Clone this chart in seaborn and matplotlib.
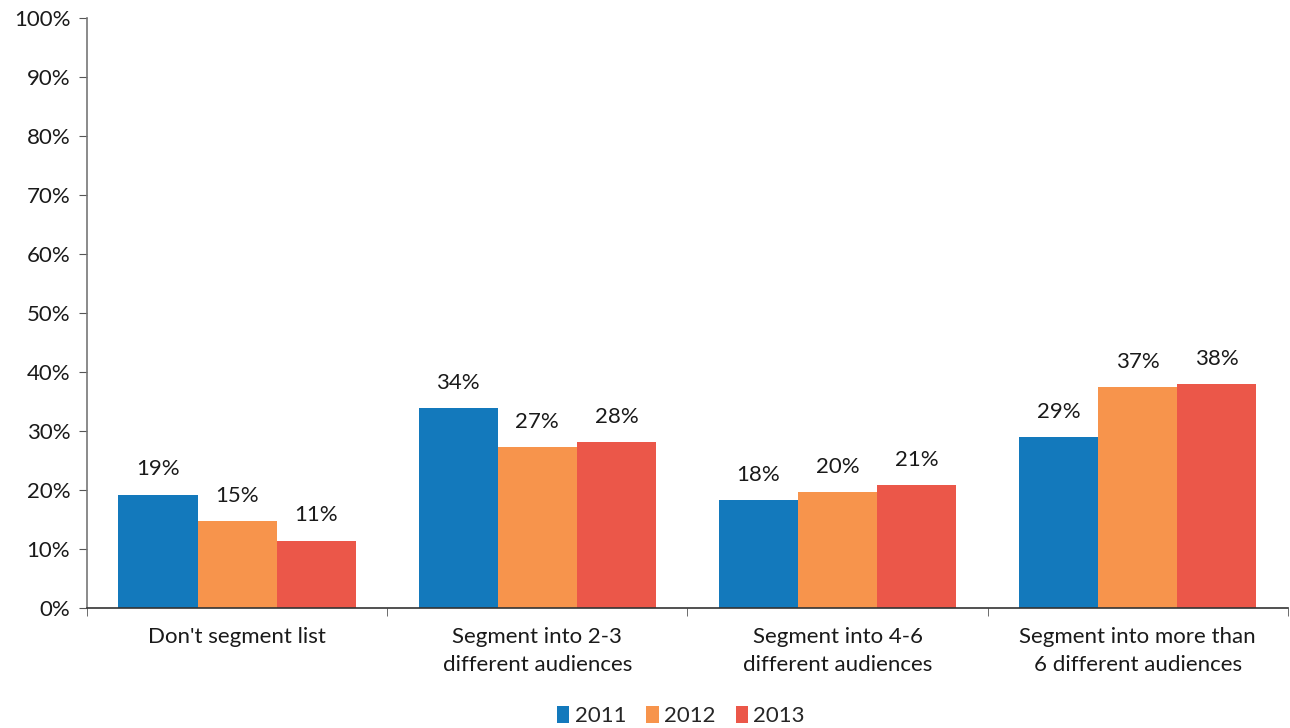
"""Email list segmentation by year, grouped bar chart."""
import matplotlib
matplotlib.use("Agg")
import matplotlib.pyplot as plt
import pandas as pd
import seaborn as sns
from matplotlib.ticker import FixedLocator, PercentFormatter

categories = [
    "Don't segment list",
    "Segment into 2-3\ndifferent audiences",
    "Segment into 4-6\ndifferent audiences",
    "Segment into more than\n6 different audiences",
]
years = ["2011", "2012", "2013"]
values_2011 = [19.2, 33.9, 18.3, 29.0]
values_2012 = [14.7, 27.3, 19.7, 37.4]
values_2013 = [11.4, 28.1, 20.8, 38.0]
colors = ["#1379bc", "#f7944c", "#eb5749"]

df = pd.DataFrame({
    "category": categories * 3,
    "year": [y for y in years for _ in categories],
    "value": values_2011 + values_2012 + values_2013,
})

sns.set_style("white")
plt.rcParams["font.family"] = ["Lato", "DejaVu Sans"]
FS = 16

fig = plt.figure(figsize=(12.9, 7.28), dpi=100)
ax = fig.add_axes([0.0674, 0.1648, 0.931, 0.8104])

sns.barplot(data=df, x="category", y="value", hue="year", palette=colors,
            width=0.79, saturation=1, ax=ax, edgecolor="none", legend=True)

for cont in ax.containers:
    ax.bar_label(cont, labels=[f"{v:.0f}%" for v in cont.datavalues],
                 padding=11, fontsize=FS, color="#1a1a1a")

ax.set_ylim(0, 100)
ax.set_xlim(-0.5, len(categories) - 0.5)
ax.yaxis.set_major_locator(FixedLocator(range(0, 101, 10)))
ax.yaxis.set_major_formatter(PercentFormatter(decimals=0))
ax.set_xlabel("")
ax.set_ylabel("")

for lbl in ax.get_xticklabels():
    lbl.set_linespacing(1.45)
ax.tick_params(axis="x", which="major", length=0, pad=14, labelsize=FS,
               labelcolor="#1a1a1a")
ax.xaxis.set_minor_locator(FixedLocator([i - 0.5 for i in range(len(categories) + 1)]))
ax.tick_params(axis="x", which="minor", length=6, direction="out", color="#555555",
               bottom=True)
ax.tick_params(axis="y", length=6, direction="out", color="#555555", labelsize=FS,
               left=True, pad=6, labelcolor="#1a1a1a")

for side in ["top", "right"]:
    ax.spines[side].set_visible(False)
ax.spines["left"].set_color("#777777")
ax.spines["bottom"].set_color("#333333")
ax.spines["left"].set_linewidth(1.2)
ax.spines["bottom"].set_linewidth(1.2)

handles, labels = ax.get_legend_handles_labels()
ax.legend(handles, labels, loc="center", bbox_to_anchor=(0.4946, -0.183),
          ncol=3, frameon=False, fontsize=FS, handlelength=0.55, handleheight=0.8,
          handletextpad=0.25, columnspacing=0.9, borderpad=0.1)

fig.savefig("out.png", dpi=100)
